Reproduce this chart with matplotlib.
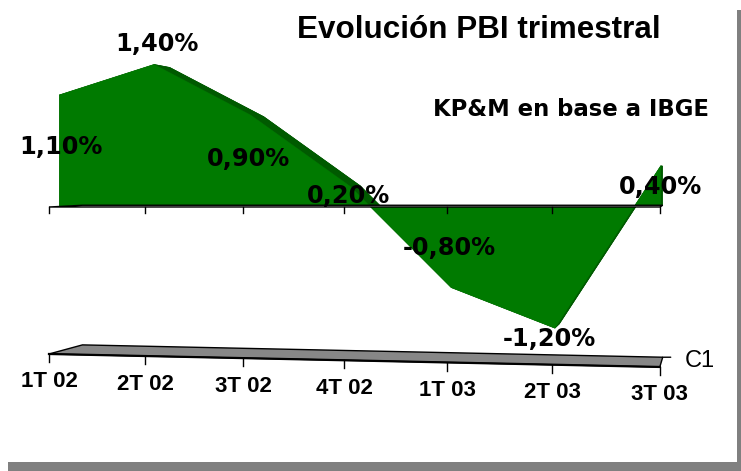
import matplotlib
matplotlib.use("Agg")
import matplotlib.pyplot as plt
import numpy as np
from matplotlib.patches import Rectangle

# ---------------- data ----------------
categories = ["1T 02", "2T 02", "3T 02", "4T 02", "1T 03", "2T 03", "3T 03"]
values = [1.10, 1.40, 0.90, 0.20, -0.80, -1.20, 0.40]
value_labels = ["1,10%", "1,40%", "0,90%", "0,20%", "-0,80%", "-1,20%", "0,40%"]
series_name = "C1"
title = "Evolución PBI trimestral"
subtitle = "KP&M en base a IBGE"

# ---------------- style / layout ----------------
label_offsets = [(1, 52), (3, -21), (-2, 44), (-1, 10), (-2, -40), (-5, 11), (0, 21)]  # px (dx, dy down)
W, H = 741, 471
FRONT = "#007A00"
SIDE = "#005A00"
T0, T1, TF = 0.0157, 0.043, 0.05          # depths: series front, series back, floor back
Q = 0.01212                                # horizontal perspective of the category scale
VP_U, VP_Y = 7.05, 0.34                    # vanishing point (linearised x, value)
FLOOR_LEVEL, FLOOR_TILT = -1.427, -0.021   # floor plate front edge
PX_Y = 1 / 103.0                           # one pixel in value units


def fwd(x):
    x = np.asarray(x, float)
    return x + Q * x * x


def inv(u):
    u = np.asarray(u, float)
    return (-1 + np.sqrt(np.maximum(1 + 4 * Q * u, 0))) / (2 * Q)


fig = plt.figure(figsize=(W / 100, H / 100), dpi=100)
ax = fig.add_axes([0, 0, 1, 1])
ax.set_xscale("function", functions=(fwd, inv))
ax.set_xlim(-0.5194, 6.741)
ax.set_ylim(-2.563, 2.0097)
ax.axis("off")


def proj(x, y, t):
    u = fwd(x)
    y = np.asarray(y, float)
    return inv(u + t * (VP_U - u)), y + t * (VP_Y - y)


n = len(values)
idx = np.arange(n)
vals = np.array(values)

# ---------- floor plate ----------
fy = FLOOR_LEVEL + FLOOR_TILT * idx
bx0, by0 = proj(0, fy[0], TF)
bx1, by1 = proj(n - 1, fy[-1], TF)
ax.fill([0, bx0, bx1, n - 1], [fy[0], by0, by1, fy[-1]], facecolor="#878787",
        edgecolor="black", linewidth=1.0, zorder=1)
ax.plot([0, n - 1], [fy[0], fy[-1]], color="black", linewidth=1.6, zorder=2)
for i in idx:
    ax.plot([i, i], [fy[i], fy[i] - 8 * PX_Y], color="black", linewidth=1, zorder=2)
    ax.annotate(categories[i], xy=(i, fy[i]), xytext=(0, -28), textcoords="offset pixels",
                ha="center", va="center", fontsize=16, fontweight="bold",
                family="Liberation Sans", zorder=5)
ax.annotate("", xy=(bx1, by1), xytext=(8, 0), textcoords="offset pixels",
            arrowprops=dict(arrowstyle="-", color="black", lw=1, shrinkA=0, shrinkB=0))
ax.annotate(series_name, xy=(bx1, by1), xytext=(22, -4), textcoords="offset pixels",
            ha="left", va="center", fontsize=17, family="Liberation Sans", zorder=5)

# ---------- series (3D area) ----------
xs = np.concatenate([[0], idx, [n - 1]])
ys = np.concatenate([[0], vals, [0]])
fxs, fys = proj(xs, ys, T0)
bxs, bys = proj(xs, ys, T1)
ax.fill(bxs, bys, facecolor=SIDE, edgecolor=SIDE, linewidth=0.5, zorder=3)
for k in range(len(xs) - 1):
    ax.fill([fxs[k], fxs[k + 1], bxs[k + 1], bxs[k]],
            [fys[k], fys[k + 1], bys[k + 1], bys[k]],
            facecolor=SIDE, edgecolor=SIDE, linewidth=0.5, zorder=3)
ax.fill(fxs, fys, facecolor=FRONT, edgecolor=FRONT, linewidth=0.3, zorder=4)

# ---------- zero plane ----------
zx0, zy0 = proj(0, 0, TF)
zx1, zy1 = proj(n - 1, 0, TF)
ax.fill([0, n - 1, zx1, zx0], [0, 0, zy1, zy0], facecolor="#c8c8c8",
        edgecolor="black", linewidth=1.0, zorder=4.5)
for i in idx:
    ax.plot([i, i], [0, -6 * PX_Y], color="black", linewidth=1, zorder=4.5)

# ---------- value labels ----------
for i in idx:
    px, py = proj(i, vals[i], T0)
    dx, dy = label_offsets[i]
    ax.annotate(value_labels[i], xy=(px, py), xytext=(dx, -dy), textcoords="offset pixels",
                ha="center", va="center", fontsize=17.3, fontweight="bold",
                family="DejaVu Sans", zorder=6)

# ---------- titles ----------
fig.text(478.5 / W, 1 - 38 / H, title, ha="center", va="baseline", fontsize=22.6,
         fontweight="bold", family="Liberation Sans")
fig.text(571 / W, 1 - 116 / H, subtitle, ha="center", va="baseline", fontsize=16.4,
         fontweight="bold", family="DejaVu Sans")

# ---------- frame shadow ----------
fig.add_artist(Rectangle((737 / W, 0), 4 / W, (H - 10) / H, transform=fig.transFigure,
                         facecolor="#808080", edgecolor="none"))
fig.add_artist(Rectangle((8 / W, 0), (W - 8) / W, 9 / H, transform=fig.transFigure,
                         facecolor="#808080", edgecolor="none"))

fig.savefig("out.png", dpi=100, facecolor="white")
